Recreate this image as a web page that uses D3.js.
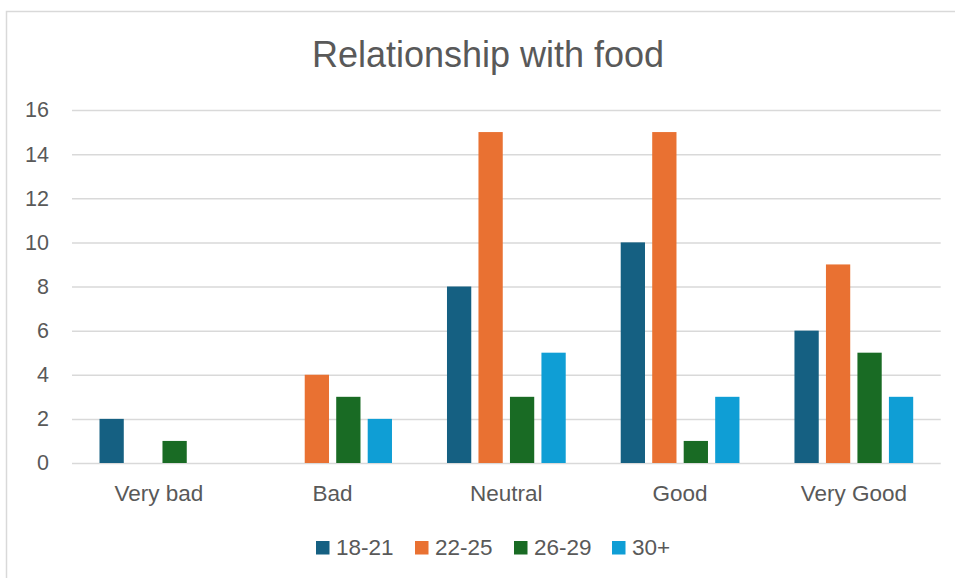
<!DOCTYPE html>
<html>
<head>
<meta charset="utf-8">
<script src="https://cdn.jsdelivr.net/npm/d3@7"></script>
<style>
  body { margin: 0; background: #fff; }
  svg text { font-family: "Liberation Sans", Arial, sans-serif; fill: #595959; }
</style>
</head>
<body>
<div class="canvas"></div>
<script>
const categories = ['Very bad', 'Bad', 'Neutral', 'Good', 'Very Good'];
const seriesNames = ['18-21', '22-25', '26-29', '30+'];
const seriesColors = ['#156082', '#E97132', '#196B24', '#0F9ED5'];
const values18 = [2, 0, 8, 10, 6];
const values22 = [0, 4, 15, 15, 9];
const values26 = [1, 3, 3, 1, 5];
const values30 = [0, 2, 5, 3, 3];
const yTicks = [0, 2, 4, 6, 8, 10, 12, 14, 16];

const seriesValues = [values18, values22, values26, values30];
const rows = categories.map((c, i) => ({
  cat: c,
  vals: seriesNames.map((s, j) => ({ key: s, value: seriesValues[j][i] }))
}));

const width = 955, height = 578;
const plot = { left: 72, right: 940.7, top: 110, bottom: 463 };

const svg = d3
  .select('.canvas')
  .append('svg')
  .attr('width', width)
  .attr('height', height);

// chart frame
svg
  .append('rect')
  .attr('x', 6.5)
  .attr('y', 11.5)
  .attr('width', width + 10)
  .attr('height', height + 10)
  .attr('fill', 'none')
  .attr('stroke', '#d9d9d9')
  .attr('stroke-width', 1.5);

svg
  .append('text')
  .attr('x', 488)
  .attr('y', 67)
  .attr('text-anchor', 'middle')
  .attr('font-size', 36)
  .text('Relationship with food');

const x0 = d3.scaleBand().domain(categories).range([plot.left, plot.right]);
const outer = 27.5;
const x1 = d3
  .scaleBand()
  .domain(seriesNames)
  .range([outer, x0.bandwidth() - outer])
  .paddingInner(0.229);
const y = d3.scaleLinear().domain([0, 16]).range([plot.bottom, plot.top]);
const color = d3.scaleOrdinal().domain(seriesNames).range(seriesColors);

// gridlines + y labels
const yAxis = svg
  .append('g')
  .attr('transform', `translate(${plot.left},0)`)
  .call(
    d3.axisLeft(y)
      .tickValues(yTicks)
      .tickSize(-(plot.right - plot.left))
      .tickPadding(23)
  );
yAxis.select('.domain').remove();
yAxis.selectAll('line').attr('stroke', '#d9d9d9').attr('stroke-width', 1.5);
yAxis.selectAll('text').attr('font-size', 21.5).style('font-family', null).attr('fill', null);

// bars
const groups = svg
  .selectAll('.group')
  .data(rows)
  .enter()
  .append('g')
  .attr('class', 'group')
  .attr('transform', d => `translate(${x0(d.cat)},0)`);

groups
  .selectAll('rect')
  .data(d => d.vals.filter(v => v.value > 0))
  .enter()
  .append('rect')
  .attr('x', d => x1(d.key))
  .attr('width', x1.bandwidth())
  .attr('y', d => y(d.value))
  .attr('height', d => y(0) - y(d.value))
  .attr('fill', d => color(d.key));

// category labels
const xAxis = svg
  .append('g')
  .attr('transform', `translate(0,${plot.bottom})`)
  .call(d3.axisBottom(x0).tickSize(0).tickPadding(22));
xAxis.select('.domain').remove();
xAxis.selectAll('text').attr('font-size', 22.5).style('font-family', null).attr('fill', null);

// legend
const legendX = [316, 415, 514, 612];
const legend = svg
  .selectAll('.legend')
  .data(seriesNames)
  .enter()
  .append('g')
  .attr('class', 'legend')
  .attr('transform', (d, i) => `translate(${legendX[i]},541)`);
legend
  .append('rect')
  .attr('width', 13.5)
  .attr('height', 13.5)
  .attr('fill', d => color(d));
legend
  .append('text')
  .attr('x', 20)
  .attr('y', 13.5)
  .attr('font-size', 22.5)
  .text(d => d);
</script>
</body>
</html>
